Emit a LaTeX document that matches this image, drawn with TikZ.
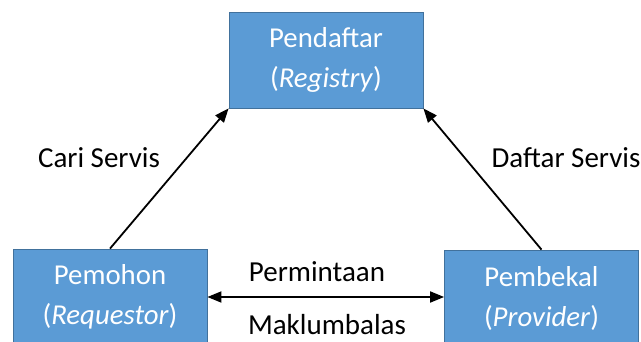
\documentclass[tikz,border=0pt]{standalone}
\usepackage{fontspec}
\setmainfont{Carlito}
\usetikzlibrary{arrows.meta}
\definecolor{boxfill}{HTML}{5B9BD5}
\definecolor{boxline}{HTML}{41719C}
\tikzset{
  role/.style={draw=boxline, line width=0.8pt, fill=boxfill, text=white,
    minimum width=194pt, minimum height=96pt, inner sep=0pt, align=center,
    font=\fontsize{28.8}{40}\selectfont},
  flow/.style={line width=1.8pt, -{Triangle[length=14pt,width=11pt]}},
  twoway/.style={line width=1.8pt, {Triangle[length=14pt,width=11pt]}-{Triangle[length=14pt,width=11pt]}},
  tag/.style={font=\fontsize{29}{30}\selectfont, inner sep=0pt}
}
\begin{document}
\begin{tikzpicture}[x=1pt,y=-1pt]
  \useasboundingbox (0,0) rectangle (641,342);
  \clip (0,0) rectangle (641,342);
  \fill[white] (0,0) rectangle (641,342);
  % the three parties
  \node[role] (reg)  at (326,60)  {Pendaftar\\(\textit{Registry})};
  \node[role] (req)  at (110,297) {Pemohon\\(\textit{Requestor})};
  \node[role] (prov) at (541.5,298) {Pembekal\\(\textit{Provider})};
  % interactions
  \draw[flow] (req.north) -- (reg.south west);
  \draw[flow] (prov.north) -- (reg.south east);
  \draw[twoway] (req.east) -- (req.east -| prov.west);
  % labels
  \node[tag] (cari)  at (99,158)  {Cari Servis};
  \node[tag] (dafta) at (566,158) {Daftar Servis};
  \node[tag] (minta) at (317,272) {Permintaan};
  \node[tag] (balas) at (327,325) {Maklumbalas};
\end{tikzpicture}
\end{document}
